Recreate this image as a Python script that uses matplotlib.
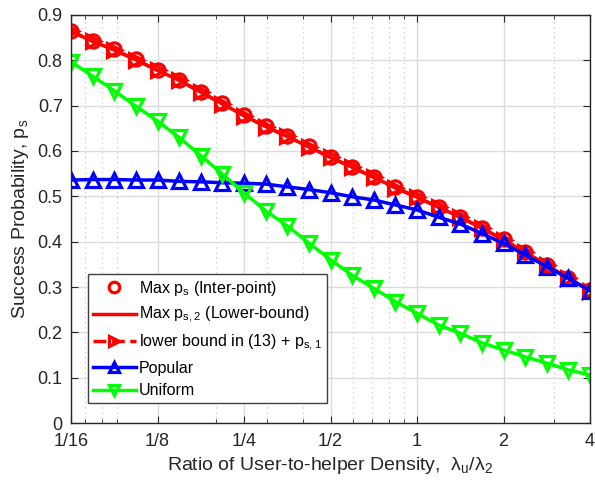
import numpy as np
import matplotlib
matplotlib.use("Agg")
import matplotlib.pyplot as plt
from matplotlib.ticker import FixedLocator, NullFormatter

plt.rcParams['font.family'] = ['Liberation Sans', 'DejaVu Sans']
plt.rcParams['mathtext.default'] = 'regular'

# x: ratio lambda_u / lambda_2, quarter-octave steps from 1/16 to 4
x_exp = [-4, -3.75, -3.5, -3.25, -3, -2.75, -2.5, -2.25, -2, -1.75, -1.5, -1.25,
         -1, -0.75, -0.5, -0.25, 0, 0.25, 0.5, 0.75, 1, 1.25, 1.5, 1.75, 2]
x = 2.0 ** np.array(x_exp)

max_ps_inter = [0.865, 0.843, 0.824, 0.802, 0.779, 0.757, 0.731, 0.705, 0.679, 0.655,
                0.633, 0.610, 0.587, 0.565, 0.543, 0.520, 0.499, 0.477, 0.455, 0.431,
                0.405, 0.378, 0.349, 0.320, 0.293]
max_ps2_lower = [0.864, 0.842, 0.823, 0.801, 0.778, 0.756, 0.730, 0.704, 0.678, 0.654,
                 0.632, 0.609, 0.586, 0.564, 0.542, 0.519, 0.498, 0.476, 0.454, 0.430,
                 0.404, 0.377, 0.348, 0.319, 0.292]
lb13_ps1 = [0.864, 0.842, 0.823, 0.801, 0.778, 0.756, 0.730, 0.704, 0.678, 0.654,
            0.632, 0.609, 0.586, 0.564, 0.542, 0.519, 0.498, 0.476, 0.454, 0.430,
            0.404, 0.377, 0.348, 0.319, 0.292]
popular = [0.536, 0.537, 0.537, 0.536, 0.536, 0.533, 0.532, 0.530, 0.529, 0.527,
           0.521, 0.515, 0.508, 0.499, 0.492, 0.481, 0.470, 0.454, 0.439, 0.418,
           0.396, 0.371, 0.345, 0.319, 0.292]
uniform = [0.797, 0.765, 0.733, 0.699, 0.666, 0.630, 0.590, 0.549, 0.508, 0.468,
           0.435, 0.397, 0.360, 0.326, 0.297, 0.268, 0.242, 0.216, 0.198, 0.177,
           0.161, 0.146, 0.132, 0.117, 0.106]

xticks = [1/16, 1/8, 1/4, 1/2, 1, 2, 4]
xticklabels = ['1/16', '1/8', '1/4', '1/2', '1', '2', '4']
xminor = [0.07, 0.08, 0.09, 0.2, 0.3, 0.4, 0.6, 0.7, 0.8, 0.9, 3]

fig = plt.figure(figsize=(5.95, 4.82), dpi=100)
ax = fig.add_axes([71/595, 1 - 423/482, 519/595, 408/482])

lw = 2.5
ms = 9.5
mew = 2.3
ax.plot(x, max_ps_inter, 'o', color='red', ms=ms, mew=mew, mfc='none',
        label='Max p$_s$ (Inter-point)')
ax.plot(x, max_ps2_lower, '-', color='red', lw=lw,
        label='Max p$_{s,2}$ (Lower-bound)')
ax.plot(x, lb13_ps1, '--', marker='>', color='red', lw=lw, ms=ms, mew=mew, mfc='none',
        label='lower bound in (13) + p$_{s,1}$')
ax.plot(x, popular, '-', marker='^', color='blue', lw=lw, ms=ms, mew=mew, mfc='none',
        label='Popular')
ax.plot(x, uniform, '-', marker='v', color=(0, 1, 0), lw=lw, ms=ms, mew=mew, mfc='none',
        label='Uniform')

ax.set_xscale('log', base=2)
ax.set_xlim(1/16, 4)
ax.set_ylim(0, 0.9)
ax.set_xticks(xticks)
ax.set_xticklabels(xticklabels)
ax.xaxis.set_minor_locator(FixedLocator(xminor))
ax.xaxis.set_minor_formatter(NullFormatter())
ax.set_yticks(np.arange(0, 0.91, 0.1))
ax.set_yticklabels(['0', '0.1', '0.2', '0.3', '0.4', '0.5', '0.6', '0.7', '0.8', '0.9'])

ax.grid(True, which='major', color='#dcdcdc', lw=1, ls='-')
ax.grid(True, which='minor', axis='x', color='#c8c8c8', lw=0.9, ls=(0, (1, 3)))
ax.set_axisbelow(True)

ax.tick_params(which='both', direction='in', top=True, right=True,
               colors='#262626', labelsize=13)
ax.tick_params(which='major', length=5)
ax.tick_params(which='minor', length=3)
ax.tick_params(axis='x', pad=7)
ax.tick_params(axis='y', pad=6)
for s in ax.spines.values():
    s.set_color('#262626')
    s.set_linewidth(1)

ax.set_xlabel(r'Ratio of User-to-helper Density,  $\lambda_u/\lambda_2$',
              fontsize=14, color='#262626', labelpad=4)
ax.set_ylabel('Success Probability, p$_s$', fontsize=14, color='#262626', labelpad=5)

leg = ax.legend(loc='lower left', bbox_to_anchor=(17/519, 20/408), borderaxespad=0,
                fontsize=11.5, handlelength=2.7, handletextpad=0.2, framealpha=1,
                fancybox=False, labelspacing=0.47, borderpad=0.3, markerscale=0.8)
leg.get_frame().set_edgecolor('#404040')
leg.get_frame().set_linewidth(1)

fig.savefig('out.png', dpi=100)
